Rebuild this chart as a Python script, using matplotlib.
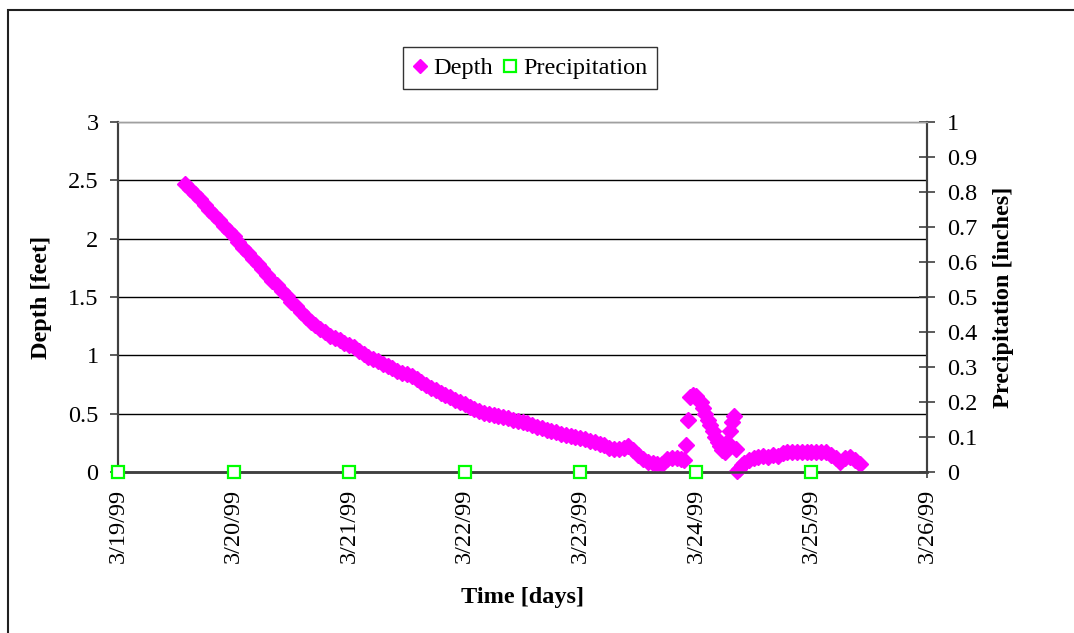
import matplotlib
matplotlib.use("Agg")
import matplotlib.pyplot as plt
from matplotlib.patches import Rectangle
from matplotlib.lines import Line2D

plt.rcParams['font.family'] = ['Liberation Serif', 'DejaVu Serif']

# ---- data -------------------------------------------------------------
date_labels = ["3/19/99", "3/20/99", "3/21/99", "3/22/99", "3/23/99",
               "3/24/99", "3/25/99", "3/26/99"]

# time of each depth reading, hours after 3/19/99 00:00
depth_hours = [
    14, 15, 16, 17, 18, 19, 20, 21, 22, 23, 24, 25, 26, 27, 28, 29, 30, 31,
    32, 33, 34, 35, 36, 37, 38, 39, 40, 41, 42, 43, 44, 45, 46, 47, 48, 49,
    50, 51, 52, 53, 54, 55, 56, 57, 58, 59, 60, 61, 62, 63, 64, 65, 66, 67,
    68, 69, 70, 71, 72, 73, 74, 75, 76, 77, 78, 79, 80, 81, 82, 83, 84, 85,
    86, 87, 88, 89, 90, 91, 92, 93, 94, 95, 96, 97, 98, 99, 100, 101, 102,
    103, 104, 105, 106, 107, 108, 109, 110, 111, 112, 113, 114, 115, 116,
    117, 117.5, 118.0, 118.4, 118.8, 119.5, 120, 120.5, 121, 121.5, 122,
    122.5, 123, 123.5, 124, 124.5, 125, 125.5, 126, 126.5, 127, 127.5, 128,
    128.3, 128.6, 129, 129.5, 130, 131, 132, 133, 134, 135, 136, 137, 138,
    139, 140, 141, 142, 143, 144, 145, 146, 147, 148, 149, 150, 151, 152,
    153, 154]
depth_ft = [
    2.47, 2.43, 2.38, 2.34, 2.29, 2.25, 2.20, 2.16, 2.11, 2.07, 2.02, 1.97,
    1.92, 1.88, 1.83, 1.78, 1.74, 1.69, 1.64, 1.60, 1.55, 1.51, 1.46, 1.42,
    1.37, 1.33, 1.29, 1.26, 1.23, 1.20, 1.17, 1.15, 1.13, 1.11, 1.09, 1.07,
    1.04, 1.01, 0.99, 0.97, 0.95, 0.93, 0.91, 0.89, 0.87, 0.85, 0.84, 0.82,
    0.80, 0.77, 0.75, 0.72, 0.70, 0.68, 0.66, 0.64, 0.62, 0.60, 0.58, 0.56,
    0.54, 0.52, 0.51, 0.50, 0.49, 0.48, 0.47, 0.46, 0.45, 0.44, 0.43, 0.42,
    0.40, 0.39, 0.38, 0.36, 0.35, 0.34, 0.33, 0.32, 0.31, 0.30, 0.29, 0.28,
    0.27, 0.26, 0.24, 0.23, 0.21, 0.20, 0.20, 0.21, 0.22, 0.19, 0.15, 0.11,
    0.09, 0.08, 0.07, 0.07, 0.11, 0.12, 0.12, 0.11, 0.10, 0.23, 0.45, 0.64,
    0.66, 0.65, 0.62, 0.60, 0.55, 0.50, 0.45, 0.40, 0.35, 0.30, 0.26, 0.22,
    0.19, 0.17, 0.26, 0.35, 0.43, 0.48, 0.20, 0.01, 0.03, 0.06, 0.08, 0.10,
    0.12, 0.13, 0.14, 0.13, 0.15, 0.14, 0.16, 0.17, 0.17, 0.17, 0.17, 0.17,
    0.17, 0.17, 0.17, 0.17, 0.15, 0.12, 0.09, 0.12, 0.13, 0.10, 0.07]

# daily precipitation readings (day index after 3/19/99)
precip_days = [0, 1, 2, 3, 4, 5, 6]
precip_in = [0, 0, 0, 0, 0, 0, 0]

depth_ticks = [0, 0.5, 1, 1.5, 2, 2.5, 3]
depth_tick_labels = ["0", "0.5", "1", "1.5", "2", "2.5", "3"]
precip_ticks = [0, 0.1, 0.2, 0.3, 0.4, 0.5, 0.6, 0.7, 0.8, 0.9, 1]
precip_tick_labels = ["0", "0.1", "0.2", "0.3", "0.4", "0.5", "0.6", "0.7",
                      "0.8", "0.9", "1"]

# ---- figure -----------------------------------------------------------
W, H = 1074, 633
fig = plt.figure(figsize=(W / 100, H / 100), dpi=100)
fig.patch.set_facecolor('white')

# outer chart border (cropped on right and bottom)
fig.patches.append(Rectangle((8 / W, -0.2), 2.0, 1.2 - 10 / H,
                             transform=fig.transFigure, fill=False,
                             edgecolor='#202020', linewidth=1.5,
                             clip_on=False))

left, right, top, bottom = 118, 927, 122, 472
ax = fig.add_axes([left / W, 1 - bottom / H, (right - left) / W,
                   (bottom - top) / H])
ax2 = ax.twinx()

FS = 17.5
MAG, GRN = '#FF00FF', '#00FF00'
days = [h / 24.0 for h in depth_hours]
ax.plot(days, depth_ft, linestyle='none', marker='D', markersize=8.6,
        color=MAG, markeredgecolor=MAG, clip_on=False, zorder=3)
ax2.plot(precip_days, precip_in, linestyle='none', marker='s',
         markersize=8, markerfacecolor='white', markeredgecolor=GRN,
         markeredgewidth=1.6, clip_on=False, zorder=4)

ax.set_xlim(0, 7)
ax.set_ylim(0, 3)
ax2.set_ylim(0, 1)

ax.set_xticks(range(len(date_labels)))
ax.set_xticklabels(date_labels, rotation=90, fontsize=FS)
ax.set_yticks(depth_ticks)
ax.set_yticklabels(depth_tick_labels, fontsize=FS)
ax2.set_yticks(precip_ticks)
ax2.set_yticklabels(precip_tick_labels, fontsize=FS)

ax.tick_params(axis='x', direction='out', length=4, width=1.2, pad=8,
               color='#404040')
ax.tick_params(axis='y', direction='out', length=6, width=1.2, pad=8,
               color='#404040')
ax2.tick_params(axis='y', direction='inout', length=11, width=1.2, pad=9,
                color='#404040')

ax.yaxis.grid(True, color='black', linewidth=1.0)
gl = ax.yaxis.get_gridlines()
gl[0].set_visible(False)
gl[-1].set_color('#a0a0a0')

for a in (ax, ax2):
    a.spines['top'].set_color('#a0a0a0')
    a.spines['top'].set_linewidth(1.0)
    a.spines['left'].set_color('#404040')
    a.spines['left'].set_linewidth(1.5)
    a.spines['right'].set_color('#404040')
    a.spines['right'].set_linewidth(1.5)
    a.spines['bottom'].set_color('#404040')
    a.spines['bottom'].set_linewidth(1.8)

ax.set_xlabel('Time [days]', fontsize=FS, fontweight='bold')
ax.xaxis.set_label_coords(0.5, -0.328)
ax.set_ylabel('Depth [feet]', fontsize=FS, fontweight='bold')
ax.yaxis.set_label_coords((52 - left) / (right - left), 0.5)
ax2.set_ylabel('Precipitation [inches]', fontsize=FS, fontweight='bold')
ax2.yaxis.set_label_coords((993 - left) / (right - left), 0.5)

h1 = Line2D([], [], linestyle='none', marker='D', markersize=7,
            color=MAG, markeredgecolor=MAG, label='Depth')
h2 = Line2D([], [], linestyle='none', marker='s', markersize=8.5,
            markerfacecolor='white', markeredgecolor=GRN,
            markeredgewidth=1.6, label='Precipitation')
leg = fig.legend(handles=[h1, h2], loc='center',
                 bbox_to_anchor=(530 / W, 1 - 68 / H), ncol=2,
                 fontsize=FS, frameon=True, fancybox=False,
                 handlelength=0.6, handletextpad=0.25, columnspacing=0.4,
                 borderpad=0.4)
leg.get_frame().set_edgecolor('black')
leg.get_frame().set_linewidth(1.0)

fig.savefig('out.png', dpi=100)
